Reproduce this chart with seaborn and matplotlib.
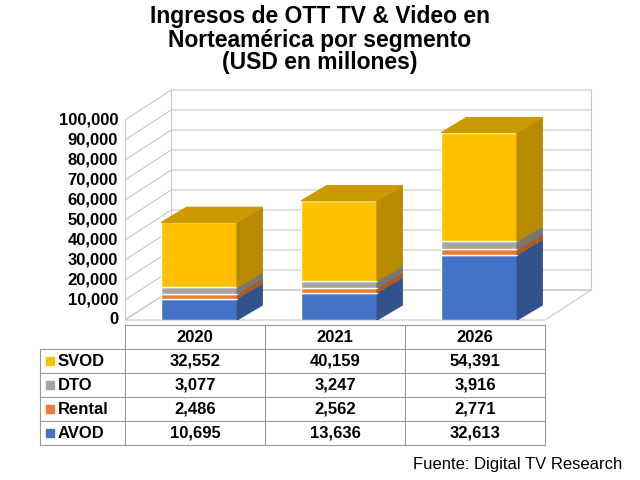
import matplotlib
matplotlib.use("Agg")
import matplotlib.pyplot as plt
import seaborn as sns
import numpy as np
from matplotlib.patches import Polygon

years = ["2020", "2021", "2026"]
segments = ["SVOD", "DTO", "Rental", "AVOD"]
svod = [32552, 40159, 54391]
dto = [3077, 3247, 3916]
rental = [2486, 2562, 2771]
avod = [10695, 13636, 32613]
yticks = np.arange(0, 100001, 10000)

sns.set_style("white")
plt.rcParams["font.family"] = "Liberation Sans"
plt.rcParams["text.color"] = "black"
colors = {"SVOD": "#FFC000", "DTO": "#A5A5A5", "Rental": "#ED7D31", "AVOD": "#4472C4"}
values = {"SVOD": svod, "DTO": dto, "Rental": rental, "AVOD": avod}
stack = ["AVOD", "Rental", "DTO", "SVOD"]

def shade(c, f):
    r, g, b = matplotlib.colors.to_rgb(c)
    return (r * f, g * f, b * f)

W, H = 640, 480
fig = plt.figure(figsize=(6.4, 4.8), dpi=100)
fig.patch.set_facecolor("white")

# main axes: x pixels 125..600, y pixels 80..320
ax = fig.add_axes([125 / W, (H - 320) / H, 475 / W, 240 / H])
ax.set_xlim(-0.5, 475 / 140 - 0.5)
ax.set_ylim(0, 120000)
ax.axis("off")

dx, dy = 0.18, 7500        # bar depth
wdx, wdy = 0.33, 15000     # wall depth
x0, x1 = -0.5, 2.5
gc = "#c8c8c8"
for t in yticks:
    ax.plot([x0, x0 + wdx, x1 + wdx], [t, t + wdy, t + wdy], color=gc, lw=0.8, clip_on=False)
ax.plot([x0 + wdx, x0 + wdx], [wdy, 100000 + wdy], color=gc, lw=0.8, clip_on=False)
ax.plot([x1 + wdx, x1 + wdx], [wdy, 100000 + wdy], color=gc, lw=0.8, clip_on=False)
ax.plot([x0, x0], [0, 100000], color=gc, lw=0.8)
ax.add_patch(Polygon([(x0, 0), (x1, 0), (x1 + wdx, wdy), (x0 + wdx, wdy)],
                     closed=True, fill=False, edgecolor=gc, lw=0.8, clip_on=False))
for t in yticks:
    ax.text(x0 - 0.05, t, f"{t:,}", ha="right", va="center", fontsize=12, fontweight="bold")

bw = 0.54
xs = np.arange(len(years)) + 0.03
bottom = np.zeros(len(years))
for seg in stack:
    v = np.array(values[seg])
    c = colors[seg]
    ax.bar(xs, v, bw, bottom=bottom, color=c, zorder=3)
    for i in range(len(years)):
        xr = xs[i] + bw / 2
        b, t = bottom[i], bottom[i] + v[i]
        ax.add_patch(Polygon([(xr, b), (xr + dx, b + dy), (xr + dx, t + dy), (xr, t)],
                             closed=True, color=shade(c, 0.72), zorder=3))
    bottom += v
for i in range(len(years)):
    xl, xr = xs[i] - bw / 2, xs[i] + bw / 2
    t = bottom[i]
    ax.add_patch(Polygon([(xl, t), (xr, t), (xr + dx, t + dy), (xl + dx, t + dy)],
                         closed=True, color=shade(colors["SVOD"], 0.8), zorder=3))

# data table
tab = fig.add_axes([0, 0, 1, 1])
tab.set_xlim(0, W)
tab.set_ylim(H, 0)
tab.axis("off")
left, lab, right = 40, 125, 545
top, rh = 325, 24
cw = (right - lab) / 3
lc = "#999999"
rows = 1 + len(segments)
for r in range(rows + 1):
    y = top + r * rh
    tab.plot([left if r > 0 else lab, right], [y, y], color=lc, lw=0.8)
for k in range(4):
    xk = lab + k * cw
    tab.plot([xk, xk], [top, top + rows * rh], color=lc, lw=0.8)
tab.plot([left, left], [top + rh, top + rows * rh], color=lc, lw=0.8)
for j, yr in enumerate(years):
    tab.text(lab + (j + 0.5) * cw, top + rh / 2, yr, ha="center", va="center",
             fontsize=12, fontweight="bold")
for r, seg in enumerate(segments):
    yc = top + (r + 1.5) * rh
    tab.add_patch(plt.Rectangle((left + 6, yc - 4), 8, 8, color=colors[seg]))
    tab.text(left + 18, yc, seg, ha="left", va="center", fontsize=12, fontweight="bold")
    for j in range(len(years)):
        tab.text(lab + (j + 0.5) * cw, yc, f"{values[seg][j]:,}", ha="center",
                 va="center", fontsize=12, fontweight="bold")

fig.text(0.5, 1 - 40 / H, "Ingresos de OTT TV & Video en\nNorteamérica por segmento\n(USD en millones)",
         ha="center", va="center", fontsize=16.5, fontweight="bold", linespacing=1.0)
fig.text(622 / W, 1 - 464 / H, "Fuente: Digital TV Research", ha="right", va="center", fontsize=12)

fig.savefig("out.png", dpi=100)
